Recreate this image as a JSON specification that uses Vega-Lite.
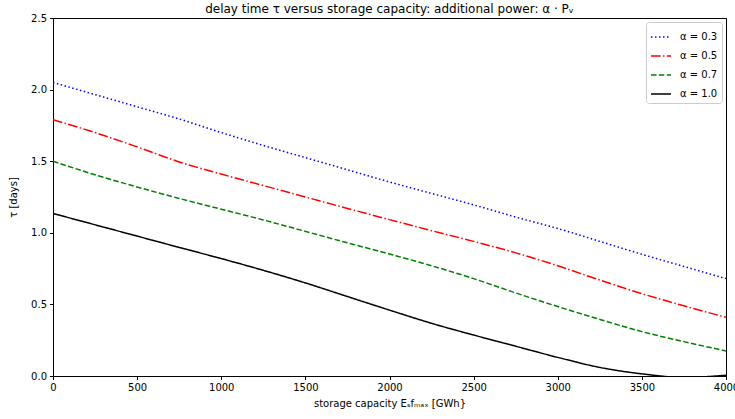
{
  "$schema": "https://vega.github.io/schema/vega-lite/v6.json",
  "autosize": "none",
  "width": 673,
  "height": 358,
  "padding": {"left": 53, "top": 18, "right": 9, "bottom": 43},
  "background": "white",
  "title": {"text": "delay time τ versus storage capacity: additional power: α · Pᵥ", "fontSize": 12, "fontWeight": "normal", "font": "DejaVu Sans", "color": "black", "offset": -3},
  "config": {
    "view": {"stroke": "black", "strokeWidth": 1},
    "font": "DejaVu Sans",
    "axis": {"grid": false, "domainColor": "black", "tickColor": "black", "tickSize": 3.5, "labelFontSize": 10, "labelColor": "black", "titleFontSize": 10, "titleFontWeight": "normal", "titleColor": "black", "labelFont": "DejaVu Sans", "titleFont": "DejaVu Sans"}
  },
  "data": {"values": [
    {"x": 0, "tau": 2.05, "alpha": "α = 0.3"},
    {"x": 250, "tau": 1.965, "alpha": "α = 0.3"},
    {"x": 500, "tau": 1.88, "alpha": "α = 0.3"},
    {"x": 750, "tau": 1.795, "alpha": "α = 0.3"},
    {"x": 1000, "tau": 1.70, "alpha": "α = 0.3"},
    {"x": 1250, "tau": 1.61, "alpha": "α = 0.3"},
    {"x": 1500, "tau": 1.525, "alpha": "α = 0.3"},
    {"x": 1750, "tau": 1.44, "alpha": "α = 0.3"},
    {"x": 2000, "tau": 1.355, "alpha": "α = 0.3"},
    {"x": 2250, "tau": 1.275, "alpha": "α = 0.3"},
    {"x": 2500, "tau": 1.195, "alpha": "α = 0.3"},
    {"x": 2750, "tau": 1.11, "alpha": "α = 0.3"},
    {"x": 3000, "tau": 1.03, "alpha": "α = 0.3"},
    {"x": 3250, "tau": 0.94, "alpha": "α = 0.3"},
    {"x": 3500, "tau": 0.85, "alpha": "α = 0.3"},
    {"x": 3750, "tau": 0.765, "alpha": "α = 0.3"},
    {"x": 4000, "tau": 0.68, "alpha": "α = 0.3"},
    {"x": 0, "tau": 1.79, "alpha": "α = 0.5"},
    {"x": 250, "tau": 1.70, "alpha": "α = 0.5"},
    {"x": 500, "tau": 1.60, "alpha": "α = 0.5"},
    {"x": 750, "tau": 1.495, "alpha": "α = 0.5"},
    {"x": 1000, "tau": 1.41, "alpha": "α = 0.5"},
    {"x": 1250, "tau": 1.33, "alpha": "α = 0.5"},
    {"x": 1500, "tau": 1.25, "alpha": "α = 0.5"},
    {"x": 1750, "tau": 1.17, "alpha": "α = 0.5"},
    {"x": 2000, "tau": 1.092, "alpha": "α = 0.5"},
    {"x": 2250, "tau": 1.015, "alpha": "α = 0.5"},
    {"x": 2500, "tau": 0.94, "alpha": "α = 0.5"},
    {"x": 2750, "tau": 0.86, "alpha": "α = 0.5"},
    {"x": 3000, "tau": 0.77, "alpha": "α = 0.5"},
    {"x": 3250, "tau": 0.67, "alpha": "α = 0.5"},
    {"x": 3500, "tau": 0.575, "alpha": "α = 0.5"},
    {"x": 3750, "tau": 0.49, "alpha": "α = 0.5"},
    {"x": 4000, "tau": 0.41, "alpha": "α = 0.5"},
    {"x": 0, "tau": 1.50, "alpha": "α = 0.7"},
    {"x": 250, "tau": 1.405, "alpha": "α = 0.7"},
    {"x": 500, "tau": 1.32, "alpha": "α = 0.7"},
    {"x": 750, "tau": 1.24, "alpha": "α = 0.7"},
    {"x": 1000, "tau": 1.165, "alpha": "α = 0.7"},
    {"x": 1250, "tau": 1.09, "alpha": "α = 0.7"},
    {"x": 1500, "tau": 1.01, "alpha": "α = 0.7"},
    {"x": 1750, "tau": 0.93, "alpha": "α = 0.7"},
    {"x": 2000, "tau": 0.852, "alpha": "α = 0.7"},
    {"x": 2250, "tau": 0.77, "alpha": "α = 0.7"},
    {"x": 2500, "tau": 0.68, "alpha": "α = 0.7"},
    {"x": 2750, "tau": 0.58, "alpha": "α = 0.7"},
    {"x": 3000, "tau": 0.485, "alpha": "α = 0.7"},
    {"x": 3250, "tau": 0.395, "alpha": "α = 0.7"},
    {"x": 3500, "tau": 0.31, "alpha": "α = 0.7"},
    {"x": 3750, "tau": 0.24, "alpha": "α = 0.7"},
    {"x": 4000, "tau": 0.175, "alpha": "α = 0.7"},
    {"x": 0, "tau": 1.135, "alpha": "α = 1.0"},
    {"x": 250, "tau": 1.056, "alpha": "α = 1.0"},
    {"x": 500, "tau": 0.977, "alpha": "α = 1.0"},
    {"x": 750, "tau": 0.898, "alpha": "α = 1.0"},
    {"x": 1000, "tau": 0.82, "alpha": "α = 1.0"},
    {"x": 1250, "tau": 0.738, "alpha": "α = 1.0"},
    {"x": 1500, "tau": 0.65, "alpha": "α = 1.0"},
    {"x": 1750, "tau": 0.555, "alpha": "α = 1.0"},
    {"x": 2000, "tau": 0.46, "alpha": "α = 1.0"},
    {"x": 2250, "tau": 0.368, "alpha": "α = 1.0"},
    {"x": 2500, "tau": 0.286, "alpha": "α = 1.0"},
    {"x": 2750, "tau": 0.208, "alpha": "α = 1.0"},
    {"x": 3000, "tau": 0.13, "alpha": "α = 1.0"},
    {"x": 3250, "tau": 0.06, "alpha": "α = 1.0"},
    {"x": 3500, "tau": 0.015, "alpha": "α = 1.0"},
    {"x": 3750, "tau": -0.01, "alpha": "α = 1.0"},
    {"x": 4000, "tau": 0.005, "alpha": "α = 1.0"}
  ]},
  "mark": {"type": "line", "strokeWidth": 1.5, "clip": true, "interpolate": "monotone"},
  "encoding": {
    "x": {"field": "x", "type": "quantitative", "scale": {"domain": [0, 4000], "nice": false, "zero": false},
      "axis": {"values": [0, 500, 1000, 1500, 2000, 2500, 3000, 3500, 4000], "title": "storage capacity Eₛfₘₐₓ [GWh}", "titlePadding": 6, "labelPadding": 3, "format": "d", "labelFlush": false}},
    "y": {"field": "tau", "type": "quantitative", "scale": {"domain": [0, 2.5], "nice": false},
      "axis": {"values": [0, 0.5, 1.0, 1.5, 2.0, 2.5], "format": ".1f", "title": "τ [days]", "titlePadding": 12, "labelPadding": 3}},
    "color": {"field": "alpha", "type": "nominal",
      "scale": {"domain": ["α = 0.3", "α = 0.5", "α = 0.7", "α = 1.0"], "range": ["#0000ff", "#ff0000", "#008000", "#000000"]},
      "legend": {"title": null, "orient": "top-right", "offset": 4, "fillColor": "white", "strokeColor": "#cccccc", "cornerRadius": 3, "padding": 4, "labelFontSize": 10, "labelFont": "DejaVu Sans", "labelColor": "black", "symbolStrokeWidth": 1.5, "symbolSize": 400, "rowPadding": 3, "labelOffset": 8}},
    "strokeDash": {"field": "alpha", "type": "nominal",
      "scale": {"domain": ["α = 0.3", "α = 0.5", "α = 0.7", "α = 1.0"], "range": [[1.5, 2.5], [9.6, 2.4, 1.5, 2.4], [5.5, 2.4], [1, 0]]},
      "legend": null}
  }
}
